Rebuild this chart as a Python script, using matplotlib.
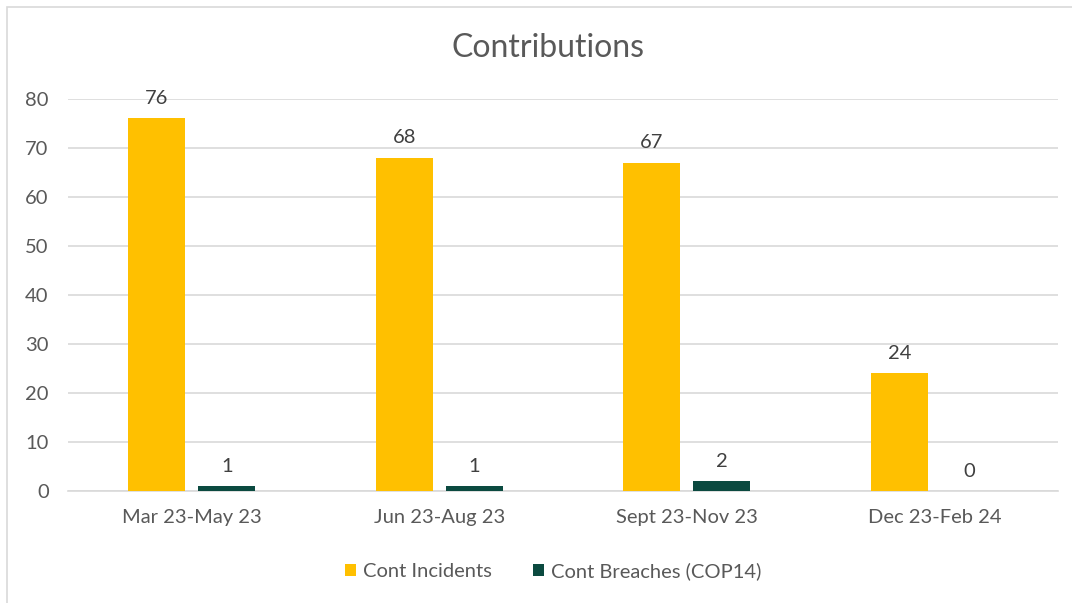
import numpy as np
from matplotlib import pyplot as plt
from matplotlib.patches import Rectangle

plt.rcParams['font.family'] = ['Lato', 'DejaVu Sans']

periods = ['Mar 23-May 23', 'Jun 23-Aug 23', 'Sept 23-Nov 23', 'Dec 23-Feb 24']
incidents = [76, 68, 67, 24]
breaches = [1, 1, 2, 0]

yellow = '#FFC000'
green = '#0B4A40'
grey = '#595959'

fig = plt.figure(figsize=(10.72, 6.03), dpi=100)
ax = fig.add_axes([0.0635, 0.1857, 0.9235, 0.6503])

x = np.arange(len(periods))
w = 0.23
gap = 0.053
b1 = ax.bar(x - (w + gap) / 2, incidents, w, color=yellow, label='Cont Incidents', zorder=3)
b2 = ax.bar(x + (w + gap) / 2, breaches, w, color=green, label='Cont Breaches (COP14)', zorder=3)

for bars in (b1, b2):
    for r in bars:
        ax.text(r.get_x() + r.get_width() / 2, r.get_height() + 2.3, str(int(r.get_height())),
                ha='center', va='bottom', fontsize=14.5, color='#404040')

ax.set_xlim(-0.5, 3.5)
ax.set_ylim(0, 80)
ax.set_yticks(range(0, 81, 10))
ax.set_xticks(x)
ax.set_xticklabels(periods)
ax.yaxis.grid(True, color='#d9d9d9', linewidth=1.2, zorder=0)
for s in ['top', 'right', 'left']:
    ax.spines[s].set_visible(False)
ax.spines['bottom'].set_color('#d9d9d9')
ax.spines['bottom'].set_linewidth(1.2)
ax.tick_params(axis='both', length=0, labelsize=14.5, labelcolor=grey)
ax.tick_params(axis='x', pad=13)
ax.tick_params(axis='y', pad=14)

fig.text(0.511, 0.92, 'Contributions', ha='center', va='center', fontsize=23, color=grey)

fig.legend(handles=[b1, b2], loc='center', bbox_to_anchor=(0.516, 0.053), ncol=2, frameon=False,
           fontsize=14.5, labelcolor=grey, handlelength=0.55, handleheight=0.55,
           handletextpad=0.35, columnspacing=2.0)

fig.patches.append(Rectangle((7 / 1072, -0.1), 1.2, 1 - 7 / 603 + 0.1, transform=fig.transFigure,
                             fill=False, edgecolor='#d9d9d9', linewidth=1.2))

plt.savefig('out.png', dpi=100)
